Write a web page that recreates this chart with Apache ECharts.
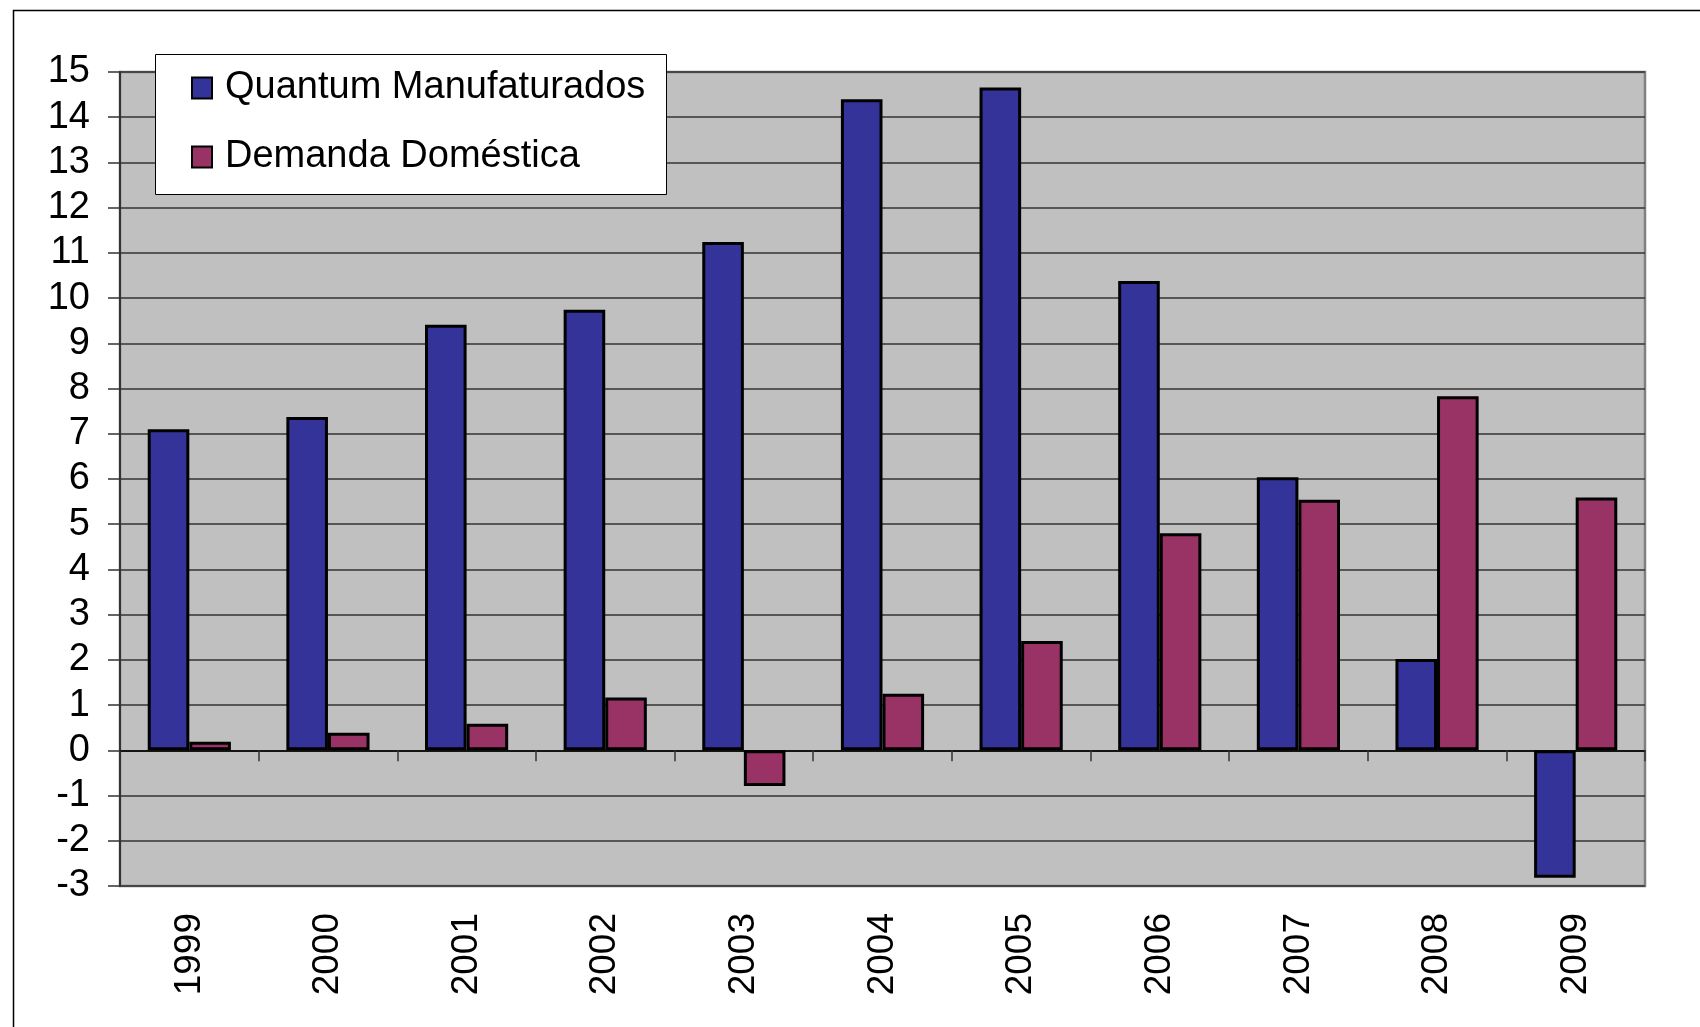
<!DOCTYPE html>
<html>
<head>
<meta charset="utf-8">
<script src="https://cdn.jsdelivr.net/npm/echarts@6/dist/echarts.min.js"></script>
<style>
  html, body { margin: 0; padding: 0; background: #ffffff; }
  #chart { width: 1700px; height: 1027px; }
</style>
</head>
<body>
<div id="chart"></div>
<script>
const years = ['1999', '2000', '2001', '2002', '2003', '2004', '2005', '2006', '2007', '2008', '2009'];
const quantumManufaturados = [7.1, 7.37, 9.41, 9.74, 11.24, 14.4, 14.66, 10.38, 6.04, 2.02, -2.82];
const demandaDomestica = [0.19, 0.39, 0.59, 1.17, -0.79, 1.25, 2.42, 4.8, 5.54, 7.83, 5.59];
const seriesNames = ['Quantum Manufaturados', 'Demanda Doméstica'];
const yMin = -3, yMax = 15, yStep = 1;

const FONT = '"Liberation Sans", Arial, sans-serif';
const chart = echarts.init(document.getElementById('chart'), null, { renderer: 'canvas' });

chart.setOption({
  animation: false,
  backgroundColor: '#ffffff',
  textStyle: { fontFamily: FONT, color: '#000' },
  graphic: [
    {
      type: 'rect', z: 0, silent: true,
      shape: { x: 13.5, y: 10.5, width: 1800, height: 1100 },
      style: { fill: 'none', stroke: '#000', lineWidth: 1.5 }
    },
    {
      type: 'rect', z: 10, silent: true,
      shape: { x: 155.5, y: 54.5, width: 511, height: 140 },
      style: { fill: '#ffffff', stroke: '#000', lineWidth: 1 }
    }
  ],
  legend: {
    z: 11,
    orient: 'vertical',
    left: 191,
    top: 69,
    padding: 0,
    itemGap: 31,
    itemWidth: 20,
    itemHeight: 21,
    icon: 'rect',
    data: seriesNames,
    textStyle: { fontFamily: FONT, fontSize: 38, color: '#000', padding: [0, 0, 0, 8] }
  },
  grid: {
    left: 120, right: 55, top: 72, bottom: 141,
    show: true,
    backgroundColor: '#C0C0C0',
    borderColor: '#808080',
    borderWidth: 2.5
  },
  xAxis: [
    {
      type: 'category',
      data: years,
      position: 'bottom',
      axisLine: { onZero: true, lineStyle: { color: '#000', width: 1.5 } },
      axisTick: { show: true, length: 11, inside: false, lineStyle: { color: '#333', width: 1.5 } },
      axisLabel: { show: false },
      splitLine: { show: false }
    },
    {
      type: 'category',
      data: years,
      position: 'bottom',
      axisLine: { show: false, onZero: false },
      axisTick: { show: false },
      axisLabel: {
        show: true, rotate: 90, margin: 27,
        fontFamily: FONT, fontSize: 37, color: '#000'
      },
      splitLine: { show: false }
    }
  ],
  yAxis: {
    type: 'value',
    min: yMin, max: yMax, interval: yStep,
    axisLine: { show: true, onZero: false, lineStyle: { color: '#333', width: 2 } },
    axisTick: { show: true, length: 12, lineStyle: { color: '#333', width: 1.5 } },
    axisLabel: { margin: 30, fontFamily: FONT, fontSize: 38, color: '#000' },
    splitLine: { show: true, lineStyle: { color: '#333', width: 1.5 } }
  },
  series: [
    {
      name: seriesNames[0],
      type: 'bar',
      xAxisIndex: 0,
      data: quantumManufaturados,
      barGap: '0%',
      barCategoryGap: '40%',
      itemStyle: { color: '#333399', borderColor: '#000', borderWidth: 3 }
    },
    {
      name: seriesNames[1],
      type: 'bar',
      xAxisIndex: 0,
      data: demandaDomestica,
      barGap: '0%',
      barCategoryGap: '40%',
      itemStyle: { color: '#993366', borderColor: '#000', borderWidth: 3 }
    }
  ]
});
</script>
</body>
</html>
